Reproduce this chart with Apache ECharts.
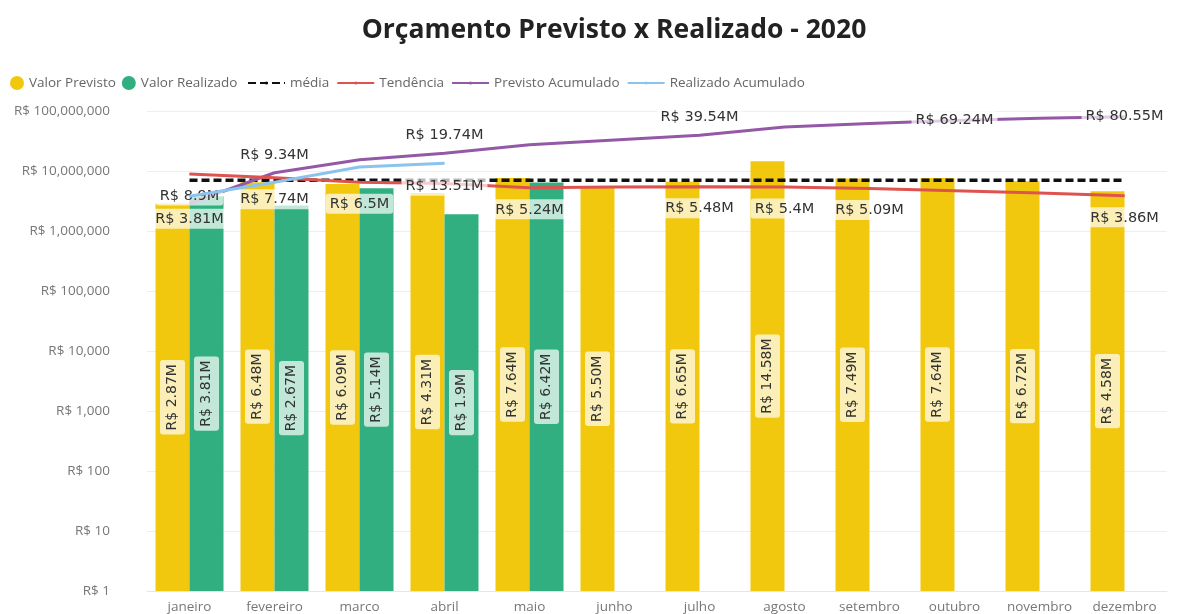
<!DOCTYPE html>
<html>
<head>
<meta charset="utf-8">
<title>Orçamento Previsto x Realizado - 2020</title>
<script src="https://cdn.jsdelivr.net/npm/echarts@6/dist/echarts.min.js"></script>
<style>
  html, body { margin: 0; padding: 0; background: #fff; }
  #chart { width: 1184px; height: 614px; }
</style>
</head>
<body>
<div id="chart"></div>
<script>
// valores em milhões de R$
const meses = ['janeiro', 'fevereiro', 'marco', 'abril', 'maio', 'junho',
  'julho', 'agosto', 'setembro', 'outubro', 'novembro', 'dezembro'];
const valorPrevisto = [2.87, 6.48, 6.09, 4.31, 7.64, 5.50, 6.65, 14.58, 7.49, 7.64, 6.72, 4.58];
const valorRealizado = [3.81, 2.67, 5.14, 1.9, 6.42, null, null, null, null, null, null, null];
const media = [7.0, 7.0, 7.0, 7.0, 7.0, 7.0, 7.0, 7.0, 7.0, 7.0, 7.0, 7.0];
const tendencia = [8.9, 7.74, 6.5, 6.2, 5.24, 5.4, 5.48, 5.4, 5.09, 4.7, 4.3, 3.86];
const previstoAcumulado = [2.87, 9.34, 15.43, 19.74, 27.38, 32.88, 39.54, 54.12, 61.61, 69.24, 75.96, 80.55];
const realizadoAcumulado = [3.81, 6.48, 11.62, 13.51, null, null, null, null, null, null, null, null];

// pontos com rótulo visível
const tendenciaRotulos = [0, 1, 2, 4, 6, 7, 8, 11];
const previstoAcumRotulosAcima = [1, 3, 6];
const previstoAcumRotulosSobre = [9, 11];
const realizadoAcumRotulos = [0, 3];

const amarelo = '#F2C80F';
const verde = '#31AF80';
const vermelho = '#DE5350';
const roxo = '#9459A6';
const azul = '#8AC4EE';

const M = 1e6;
const fonteRotulo = '"Liberation Sans Narrow", "DejaVu Sans", sans-serif';
const fonteUi = '"Open Sans", "Noto Sans", sans-serif';

const fundoRotulo = {
  backgroundColor: 'rgba(255,255,255,0.7)',
  borderRadius: 3,
  padding: [3, 4, 2, 4],
  color: '#333',
  fontFamily: fonteRotulo,
  fontSize: 14.5
};

function emReais(v) {
  return 'R$ ' + v + 'M';
}

function serieLinha(valores, rotulos, posicao, distancia) {
  return valores.map(function (v, i) {
    if (v == null) return null;
    const item = { value: Math.round(v * M) };
    if (rotulos.indexOf(i) >= 0) {
      item.label = Object.assign({
        show: true,
        position: posicao,
        distance: distancia,
        formatter: emReais(v)
      }, fundoRotulo);
    }
    return item;
  });
}

const purpleData = previstoAcumulado.map(function (v, i) {
  const item = { value: Math.round(v * M) };
  if (previstoAcumRotulosAcima.indexOf(i) >= 0) {
    item.label = Object.assign({ show: true, position: 'top', distance: 8, formatter: emReais(v) }, fundoRotulo);
  } else if (previstoAcumRotulosSobre.indexOf(i) >= 0) {
    item.label = Object.assign({ show: true, position: 'inside', formatter: emReais(v) }, fundoRotulo);
  }
  return item;
});

const chart = echarts.init(document.getElementById('chart'));

const legendaTexto = { color: '#666', fontSize: 13.5, fontFamily: fonteUi };

chart.setOption({
  animation: false,
  title: {
    text: 'Orçamento Previsto x Realizado - 2020',
    left: 609,
    textAlign: 'center',
    top: 12,
    textStyle: {
      fontFamily: fonteUi,
      fontWeight: 'bold',
      fontSize: 26.5,
      color: '#222'
    }
  },
  legend: [
    {
      left: 5,
      top: 71,
      itemGap: 6,
      itemWidth: 14,
      itemHeight: 14,
      textStyle: legendaTexto,
      data: [
        { name: 'Valor Previsto', icon: 'circle' },
        { name: 'Valor Realizado', icon: 'circle' }
      ]
    },
    {
      left: 242,
      top: 71,
      itemGap: 7,
      itemWidth: 37,
      itemHeight: 4,
      textStyle: legendaTexto,
      data: ['média', 'Tendência', 'Previsto Acumulado', 'Realizado Acumulado']
    }
  ],
  grid: {
    left: 147,
    right: 17,
    top: 111,
    bottom: 22
  },
  xAxis: {
    type: 'category',
    data: meses,
    axisTick: { show: false },
    axisLine: { lineStyle: { color: '#e6e6e6' } },
    axisLabel: {
      color: '#777',
      fontSize: 13.5,
      fontFamily: fonteUi,
      margin: 9,
      interval: 0
    }
  },
  yAxis: {
    type: 'log',
    logBase: 10,
    min: 1,
    max: 100000000,
    axisLine: { show: false },
    axisTick: { show: false },
    splitLine: { lineStyle: { color: '#eeeeee' } },
    axisLabel: {
      color: '#777',
      fontSize: 13.5,
      fontFamily: fonteUi,
      margin: 37,
      formatter: function (v) {
        return 'R$ ' + Math.round(v).toLocaleString('en-US');
      }
    }
  },
  series: [
    {
      name: 'Valor Previsto',
      type: 'bar',
      barGap: '0%',
      barCategoryGap: '20%',
      itemStyle: { color: amarelo },
      data: valorPrevisto.map(function (v) { return Math.round(v * M); }),
      label: Object.assign({
        show: true,
        position: 'inside',
        rotate: 90,
        formatter: function (p) { return 'R$ ' + valorPrevisto[p.dataIndex].toFixed(2) + 'M'; }
      }, fundoRotulo, { fontSize: 14, padding: [6, 4, 5, 4] }),
      z: 2
    },
    {
      name: 'Valor Realizado',
      type: 'bar',
      itemStyle: { color: verde },
      data: valorRealizado.map(function (v) { return v == null ? null : Math.round(v * M); }),
      label: Object.assign({
        show: true,
        position: 'inside',
        rotate: 90,
        formatter: function (p) { return emReais(valorRealizado[p.dataIndex]); }
      }, fundoRotulo, { fontSize: 14, padding: [6, 4, 5, 4] }),
      z: 2
    },
    {
      name: 'média',
      type: 'line',
      symbol: 'none',
      itemStyle: { color: '#111' },
      lineStyle: { color: '#111', width: 3.5, type: [8, 4] },
      data: media.map(function (v) { return Math.round(v * M); }),
      z: 3
    },
    {
      name: 'Tendência',
      type: 'line',
      symbol: 'circle',
      symbolSize: 1,
      showAllSymbol: true,
      itemStyle: { color: vermelho },
      lineStyle: { color: vermelho, width: 3 },
      data: serieLinha(tendencia, tendenciaRotulos, 'bottom', 11),
      z: 6
    },
    {
      name: 'Previsto Acumulado',
      type: 'line',
      symbol: 'circle',
      symbolSize: 1,
      showAllSymbol: true,
      itemStyle: { color: roxo },
      lineStyle: { color: roxo, width: 3 },
      data: purpleData,
      z: 4
    },
    {
      name: 'Realizado Acumulado',
      type: 'line',
      symbol: 'circle',
      symbolSize: 1,
      showAllSymbol: true,
      itemStyle: { color: azul },
      lineStyle: { color: azul, width: 3 },
      data: serieLinha(realizadoAcumulado, realizadoAcumRotulos, 'bottom', 12),
      z: 7
    }
  ]
});
</script>
</body>
</html>
